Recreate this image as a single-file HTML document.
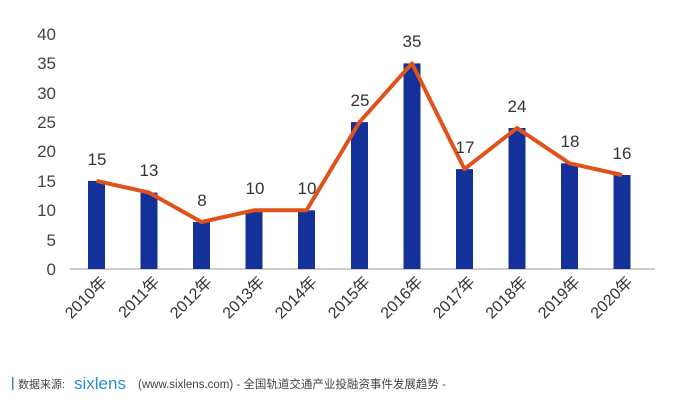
<!DOCTYPE html>
<html><head><meta charset="utf-8"><style>
html,body{margin:0;width:695px;height:406px;background:#fff;overflow:hidden;font-family:"Liberation Sans","Noto Sans CJK SC",sans-serif}
svg{display:block;overflow:hidden}
</style></head><body>
<svg width="695" height="406" xmlns="http://www.w3.org/2000/svg" style="position:absolute;left:0;top:0">
<g font-size="17" fill="#444" text-anchor="end">
<text x="56" y="275">0</text><text x="56" y="246">5</text><text x="56" y="216">10</text><text x="56" y="187">15</text>
<text x="56" y="157">20</text><text x="56" y="128">25</text><text x="56" y="99">30</text><text x="56" y="69">35</text><text x="56" y="40">40</text>
</g>
<line x1="70" y1="269" x2="655" y2="269" stroke="#bbb" stroke-width="1.5"/>
<g fill="#14319a">
<rect x="88" y="180.9" width="17" height="88.1"/>
<rect x="140.5" y="192.6" width="17" height="76.4"/>
<rect x="193" y="222" width="17" height="47"/>
<rect x="245.5" y="210.3" width="17" height="58.7"/>
<rect x="298" y="210.3" width="17" height="58.7"/>
<rect x="351" y="122.1" width="17" height="146.9"/>
<rect x="403.5" y="63.4" width="17" height="205.6"/>
<rect x="456" y="169.1" width="17" height="99.9"/>
<rect x="508.5" y="128" width="17" height="141"/>
<rect x="561" y="163.3" width="17" height="105.7"/>
<rect x="613.5" y="175" width="17" height="94"/>
</g>
<polyline fill="none" stroke="#e0521c" stroke-width="4" stroke-linejoin="round" points="96.5,180.9 149,192.6 201.5,222 254,210.3 306.5,210.3 359.5,122.1 412,63.4 464.5,169.1 517,128 569.5,163.3 622,175"/>
<g font-size="17" fill="#333" text-anchor="middle">
<text x="97" y="165">15</text><text x="149" y="176">13</text><text x="202" y="206">8</text><text x="255" y="194">10</text>
<text x="307" y="194">10</text><text x="360" y="106">25</text><text x="412" y="47">35</text><text x="465" y="153">17</text>
<text x="517" y="112">24</text><text x="570" y="147">18</text><text x="622" y="159">16</text>
</g>
<g font-size="16" fill="#333" text-anchor="end">
<text transform="translate(108,283) rotate(-45)">2010年</text>
<text transform="translate(160.5,283) rotate(-45)">2011年</text>
<text transform="translate(213,283) rotate(-45)">2012年</text>
<text transform="translate(265.5,283) rotate(-45)">2013年</text>
<text transform="translate(318,283) rotate(-45)">2014年</text>
<text transform="translate(371,283) rotate(-45)">2015年</text>
<text transform="translate(423.5,283) rotate(-45)">2016年</text>
<text transform="translate(476,283) rotate(-45)">2017年</text>
<text transform="translate(528.5,283) rotate(-45)">2018年</text>
<text transform="translate(581,283) rotate(-45)">2019年</text>
<text transform="translate(633.5,283) rotate(-45)">2020年</text>
</g>
<rect x="12" y="377" width="1.5" height="13" fill="#2a8fd0"/>
<text x="18" y="388" font-size="11" fill="#444">数据来源:</text>
<text x="74" y="389" font-size="17" fill="#2a8fd0">sixlens</text>
<text x="138" y="388" font-size="11.5" fill="#444">(www.sixlens.com) - 全国轨道交通产业投融资事件发展趋势 -</text>
</svg>
</body></html>
